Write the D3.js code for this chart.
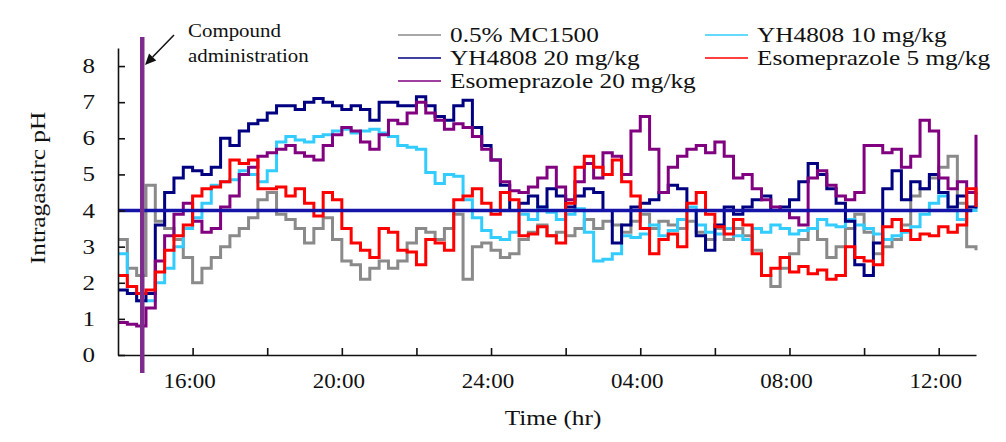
<!DOCTYPE html>
<html lang="en">
<head>
  <meta charset="UTF-8">
  <script src="https://d3js.org/d3.v7.min.js"></script>
  <style>
    body { margin: 0; background: #fff; }
    svg text { font-family: "Liberation Serif", "Times New Roman", serif; fill: #111; }
    .trace { fill: none; stroke-width: 3; stroke-linejoin: miter; }
  </style>
</head>
<body>
  <svg id="chart" width="1006" height="442"></svg>

  <script>
    // pH readings every 15 min, starting 14:00 (hour 0) through 13:00 next day (hour 23)
    var sampleHours = d3.range(0, 23.001, 0.25);

    var vehicle = [
      3.2, 2.4, 2.2, 4.7, 3.7, 3.5, 3.2, 2.7,
      2.0, 2.4, 2.7, 3.0, 3.3, 3.5, 3.8, 4.3,
      4.5, 3.9, 3.75, 3.5, 3.1, 3.5, 3.8, 3.2,
      2.6, 2.5, 2.1, 2.4, 2.6, 2.4, 2.6, 3.1,
      3.5, 3.4, 3.2, 3.5, 3.9, 2.1, 3.0, 3.1,
      2.9, 2.7, 2.8, 3.2, 3.4, 3.6, 3.3, 3.4,
      3.3, 3.5, 3.75, 3.5, 3.7, 3.6, 3.4, 3.7,
      3.9, 3.5, 3.7, 3.6, 3.5, 3.7, 3.4, 3.2,
      3.5, 3.2, 3.5, 3.3, 2.9, 2.2, 1.9, 2.4,
      2.8, 3.2, 3.5, 3.2, 2.7, 3.0, 3.5, 3.9,
      3.4, 2.8, 3.0, 3.2, 3.6, 4.4, 4.6, 4.9,
      5.2, 5.5, 4.2, 3.0, 2.9
    ];
    var yh10 = [
      2.8, 1.9, 1.5, 1.5, 2.0, 2.4, 3.0, 3.5,
      3.8, 4.2, 4.7, 4.8, 4.85, 5.1, 5.0, 4.8,
      5.1, 5.9, 6.05, 5.95, 5.9, 6.05, 6.1, 6.2,
      6.25, 6.15, 6.2, 6.25, 6.15, 6.05, 5.8, 5.75,
      5.7, 5.05, 4.75, 5.0, 4.95, 4.3, 3.8, 3.45,
      3.25, 3.2, 3.4, 3.9, 3.75, 4.1, 3.95, 3.75,
      3.9, 4.05, 3.4, 2.6, 2.65, 2.8, 3.3, 3.25,
      3.35, 3.6, 3.3, 3.45, 3.75, 4.1, 3.6, 3.4,
      3.35, 3.5, 3.3, 3.2, 3.5, 3.4, 3.6, 3.5,
      3.35, 3.45, 3.5, 3.75, 3.6, 3.55, 3.75, 3.6,
      3.5, 3.35, 3.2, 3.3, 3.4, 3.55, 3.9, 4.2,
      4.4, 4.0, 3.75, 4.0, 4.1
    ];
    var yh20 = [
      1.8, 1.7, 1.5, 1.7, 3.6, 4.5, 4.9, 5.2,
      5.1, 5.0, 5.2, 6.0, 5.8, 6.2, 6.4, 6.5,
      6.7, 6.9, 6.9, 6.8, 7.0, 7.1, 7.0, 6.9,
      6.8, 6.9, 6.8, 6.5, 7.0, 7.0, 6.9, 6.9,
      7.15, 6.9, 6.6, 6.5, 6.9, 7.05, 6.3, 5.8,
      5.4, 4.7, 4.0, 4.2, 4.4, 4.1, 4.6, 4.4,
      4.1, 4.4, 4.6, 4.5, 4.0, 3.1, 3.6, 4.1,
      4.2, 4.3, 4.5, 4.7, 4.6, 4.0, 3.3, 2.9,
      3.6, 4.1, 3.9, 4.1, 4.3, 4.4, 4.0, 4.1,
      4.3, 4.8, 5.3, 5.0, 4.6, 4.2, 3.7, 2.5,
      2.2, 3.1, 4.6, 5.1, 4.3, 4.8, 4.6, 5.0,
      4.5, 4.1, 4.4, 4.1, 4.5
    ];
    var eso5 = [
      2.2, 1.9, 1.7, 1.8, 2.3, 2.9, 3.3, 3.6,
      4.4, 4.6, 4.65, 4.8, 5.4, 5.3, 5.4, 4.6,
      4.6, 4.65, 4.4, 4.6, 4.2, 3.85, 4.5, 4.3,
      3.5, 3.1, 2.9, 2.7, 3.5, 3.4, 2.9, 2.85,
      2.5, 3.2, 3.1, 2.9, 4.3, 4.4, 4.6, 4.2,
      3.9, 4.5, 4.3, 3.3, 3.35, 3.55, 3.3, 3.1,
      4.2, 5.2, 5.5, 5.2, 5.0, 5.4, 4.8, 4.4,
      3.5, 2.8, 3.2, 3.35, 3.0, 4.2, 4.5, 3.9,
      3.55, 3.35, 3.75, 3.6, 2.8, 2.2, 2.4, 2.7,
      2.3, 2.45, 2.25, 2.35, 2.1, 2.2, 3.0, 2.7,
      2.6, 2.5, 3.55, 3.75, 3.45, 3.2, 3.35, 3.3,
      3.55, 3.4, 3.6, 4.6, 4.1
    ];
    var eso20 = [
      0.9, 0.85, 0.8, 1.3, 2.6, 3.3, 3.9, 4.2,
      3.7, 3.4, 3.5, 4.1, 4.4, 5.0, 5.2, 5.5,
      5.6, 5.7, 5.8, 5.6, 5.5, 5.4, 5.8, 6.1,
      6.3, 6.2, 5.9, 5.7, 6.1, 6.5, 6.4, 6.7,
      7.0, 6.7, 6.5, 6.25, 6.4, 6.3, 6.05, 5.7,
      5.4, 4.8, 4.55, 4.5, 4.65, 4.9, 5.2, 4.65,
      4.3, 4.8, 5.3, 4.9, 5.6, 5.5, 5.0, 6.2,
      6.6, 5.7, 4.5, 5.2, 5.5, 5.7, 5.8, 5.6,
      5.9, 5.5, 4.9, 5.0, 4.6, 4.3, 4.1, 4.0,
      3.8, 3.6, 4.9, 5.1, 4.7, 4.4, 4.3, 4.5,
      5.8, 5.8, 5.6, 5.7, 5.2, 5.5, 6.5, 6.2,
      4.9, 4.6, 4.8, 4.5, 6.1
    ];

    var seriesNames = ["0.5% MC1500", "YH4808 10 mg/kg", "YH4808 20 mg/kg", "Esomeprazole 5 mg/kg", "Esomeprazole 20 mg/kg"];
    var seriesColors = ["#8a8a8a", "#33ccff", "#000080", "#ff0000", "#800080"];
    var seriesValues = [vehicle, yh10, yh20, eso5, eso20];
    var drawOrder = [0, 1, 2, 4, 3];

    var yTicks = [0, 1, 2, 3, 4, 5, 6, 7, 8];
    var xTicks = [2, 4, 6, 8, 10, 12, 14, 16, 18, 20, 22];
    var xLabelHours = [2, 6, 10, 14, 18, 22];
    var xLabels = ["16:00", "20:00", "24:00", "04:00", "08:00", "12:00"];
    var targetPH = 4;
    var doseHour = 0.65;   // ~14:39

    var svg = d3.select("#chart");

    var x = d3.scaleLinear().domain([0, 23]).range([118, 976]);
    var y = d3.scaleLinear().domain([0, 8.5]).range([355, 48]);

    // text drawn a little wider than the stock serif, like the original
    function label(str, px, py, size, anchor, sx) {
      return svg.append("text")
        .attr("transform", "translate(" + px + "," + py + ") scale(" + (sx || 1.15) + ",1)")
        .attr("text-anchor", anchor || "start")
        .style("font-size", size + "px")
        .text(str);
    }

    // traces
    var line = d3.line()
      .x(function (d, i) { return x(sampleHours[i]); })
      .y(function (d) { return y(d); })
      .curve(d3.curveStepAfter);

    drawOrder.forEach(function (k) {
      svg.append("path")
        .attr("class", "trace")
        .attr("stroke", seriesColors[k])
        .attr("d", line(seriesValues[k]));
    });

    // pH 4 reference line
    svg.append("line")
      .attr("x1", x(0)).attr("x2", x(22.9))
      .attr("y1", y(targetPH)).attr("y2", y(targetPH))
      .attr("stroke", "#1414a8").attr("stroke-width", 3.5);

    // axes
    var yAxis = d3.axisLeft(y).tickValues(yTicks).tickSizeInner(-7).tickSizeOuter(0).tickFormat("");
    svg.append("g").attr("transform", "translate(118,0)").call(yAxis);
    var xAxis = d3.axisBottom(x).tickValues(xTicks).tickSizeInner(-7).tickSizeOuter(0).tickFormat("");
    svg.append("g").attr("transform", "translate(0,355)").call(xAxis);
    svg.selectAll(".domain, .tick line").attr("stroke", "#111").attr("stroke-width", 1.6);

    yTicks.forEach(function (v) {
      label(String(v), 95, y(v) + 7, 20, "end", 1.25);
    });
    xLabelHours.forEach(function (h, i) {
      label(xLabels[i], x(h) - 3, 388, 20, "middle");
    });

    label("Time (hr)", 553, 425, 22, "middle");
    svg.append("text")
      .attr("transform", "translate(45,188) rotate(-90) scale(1.15,1)")
      .attr("text-anchor", "middle")
      .style("font-size", "22px")
      .text("Intragastirc pH");

    // dosing marker
    svg.append("line")
      .attr("x1", x(doseHour)).attr("x2", x(doseHour))
      .attr("y1", 37).attr("y2", 373)
      .attr("stroke", "#7b2c8c").attr("stroke-width", 4.5);

    // annotation arrow
    var tail = [174, 35], tip = [145, 65];
    var dx = tip[0] - tail[0], dy = tip[1] - tail[1];
    var len = Math.sqrt(dx * dx + dy * dy);
    var ux = dx / len, uy = dy / len;
    var bx = tip[0] - 11 * ux, by = tip[1] - 11 * uy;
    svg.append("line")
      .attr("x1", tail[0]).attr("y1", tail[1]).attr("x2", bx).attr("y2", by)
      .attr("stroke", "#111").attr("stroke-width", 1.5);
    svg.append("polygon")
      .attr("points", [tip, [bx - 5 * uy, by + 5 * ux], [bx + 5 * uy, by - 5 * ux]].join(" "))
      .attr("fill", "#111");
    label("Compound", 188, 37, 19, "start", 1.1);
    label("administration", 188, 62, 19, "start", 1.1);

    // legend, two columns
    var legendCols = [[0, 2, 4], [1, 3]];
    var colX = [398, 705];
    var rowY = [42, 65, 88];
    legendCols.forEach(function (col, c) {
      col.forEach(function (k, r) {
        svg.append("line")
          .attr("x1", colX[c]).attr("x2", colX[c] + 43)
          .attr("y1", rowY[r] - 7).attr("y2", rowY[r] - 7)
          .attr("stroke", seriesColors[k]).attr("stroke-width", 1.5);
        label(seriesNames[k], colX[c] + 52, rowY[r], 22, "start", 1.15);
      });
    });
  </script>
</body>
</html>
